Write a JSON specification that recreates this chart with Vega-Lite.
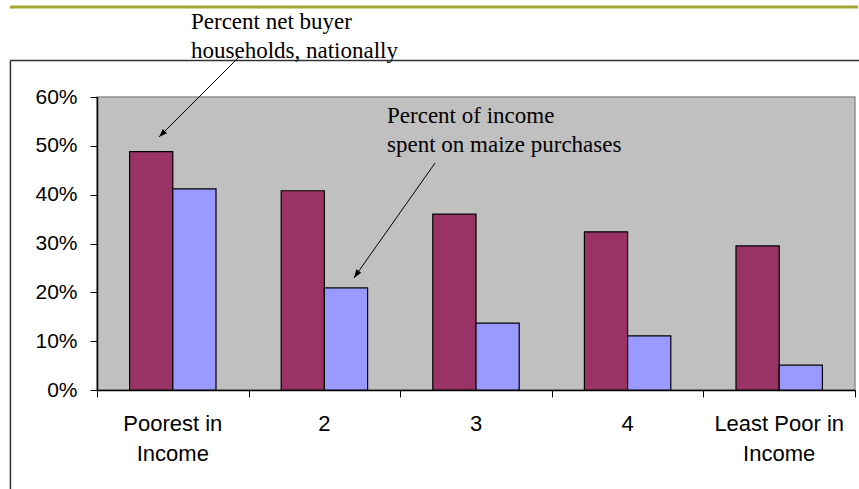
{
  "$schema": "https://vega.github.io/schema/vega-lite/v6.json",
  "autosize": "none",
  "width": 758,
  "height": 293,
  "padding": {"left": 97, "top": 97, "right": 4, "bottom": 99},
  "background": "#ffffff",
  "config": {
    "view": {"fill": "#C0C0C0", "stroke": "#909090", "strokeWidth": 1.5},
    "axis": {"grid": false}
  },
  "datasets": {
    "bars": [
      {"group": "Poorest in Income", "series": "Percent net buyer households, nationally", "value": 0.488},
      {"group": "Poorest in Income", "series": "Percent of income spent on maize purchases", "value": 0.412},
      {"group": "2", "series": "Percent net buyer households, nationally", "value": 0.408},
      {"group": "2", "series": "Percent of income spent on maize purchases", "value": 0.209},
      {"group": "3", "series": "Percent net buyer households, nationally", "value": 0.360},
      {"group": "3", "series": "Percent of income spent on maize purchases", "value": 0.137},
      {"group": "4", "series": "Percent net buyer households, nationally", "value": 0.324},
      {"group": "4", "series": "Percent of income spent on maize purchases", "value": 0.111},
      {"group": "Least Poor in Income", "series": "Percent net buyer households, nationally", "value": 0.295},
      {"group": "Least Poor in Income", "series": "Percent of income spent on maize purchases", "value": 0.051}
    ],
    "labels": [
      {"label": "Percent net buyer\nhouseholds, nationally", "x": 0.62, "y": 0.7393},
      {"label": "Percent of income\nspent on maize purchases", "x": 1.913, "y": 0.5468}
    ],
    "arrows": [
      {"x": 0.937, "y": 0.682, "x2": 0.409, "y2": 0.5181, "angle": 225},
      {"x": 2.23, "y": 0.4649, "x2": 1.695, "y2": 0.2294, "angle": 215}
    ],
    "frame": [
      {"x": -0.571, "x2": 6, "y": 0.6748, "y2": 0.6748},
      {"x": -0.571, "x2": -0.571, "y": 0.6748, "y2": -0.4}
    ],
    "topline": [
      {"x": -0.574, "x2": 5.02, "y": 0.7844}
    ],
    "ticks": [
      {"x": 0, "y": 0}
    ]
  },
  "layer": [
    {
      "data": {"name": "frame"},
      "mark": {"type": "rule", "stroke": "#333333", "strokeWidth": 1.5, "clip": false},
      "encoding": {
        "x": {"field": "x", "type": "quantitative", "scale": {"domain": [0, 5], "nice": false, "zero": false}, "axis": null},
        "x2": {"field": "x2"},
        "y": {"field": "y", "type": "quantitative", "scale": {"domain": [0, 0.6], "nice": false}},
        "y2": {"field": "y2"}
      }
    },
    {
      "data": {"name": "bars"},
      "mark": {"type": "bar", "stroke": "#000000", "strokeWidth": 1.2},
      "encoding": {
        "x": {
          "field": "group",
          "type": "nominal",
          "sort": null,
          "scale": {"paddingInner": 0.43, "paddingOuter": 0.215},
          "axis": {
            "title": null,
            "orient": "bottom",
            "domain": true,
            "ticks": false,
            "tickSize": 0,
            "domainColor": "#000000",
            "domainWidth": 1.5,
            "labelAngle": 0,
            "labelFont": "Liberation Sans",
            "labelFontSize": 22,
            "labelColor": "#000000",
            "labelLineHeight": 30,
            "labelPadding": 23,
            "labelBaseline": "top",
            "labelExpr": "datum.value == 'Poorest in Income' ? ['Poorest in', 'Income'] : datum.value == 'Least Poor in Income' ? ['Least Poor in', 'Income'] : datum.value"
          }
        },
        "xOffset": {
          "field": "series",
          "type": "nominal",
          "sort": null,
          "scale": {"paddingInner": 0, "paddingOuter": 0}
        },
        "y": {
          "field": "value",
          "type": "quantitative",
          "scale": {"domain": [0, 0.6], "nice": false, "zero": true},
          "axis": {
            "title": null,
            "orient": "left",
            "values": [0, 0.1, 0.2, 0.3, 0.4, 0.5, 0.6],
            "format": ".0%",
            "tickSize": 7,
            "tickColor": "#000000",
            "domain": true,
            "domainColor": "#000000",
            "domainWidth": 1.5,
            "labelFont": "Liberation Sans",
            "labelFontSize": 21,
            "labelColor": "#000000",
            "labelPadding": 13
          }
        },
        "color": {
          "field": "series",
          "type": "nominal",
          "sort": null,
          "scale": {
            "domain": ["Percent net buyer households, nationally", "Percent of income spent on maize purchases"],
            "range": ["#993366", "#9999FF"]
          },
          "legend": null
        }
      }
    },
    {
      "data": {"name": "topline"},
      "mark": {"type": "rule", "stroke": "#A6A632", "strokeWidth": 3, "clip": false},
      "encoding": {
        "x": {"field": "x", "type": "quantitative", "scale": {"domain": [0, 5], "nice": false, "zero": false}, "axis": null},
        "x2": {"field": "x2"},
        "y": {"field": "y", "type": "quantitative", "scale": {"domain": [0, 0.6], "nice": false}}
      }
    },
    {
      "data": {"name": "arrows"},
      "mark": {"type": "rule", "stroke": "#000000", "strokeWidth": 1, "clip": false},
      "encoding": {
        "x": {"field": "x", "type": "quantitative", "scale": {"domain": [0, 5], "nice": false, "zero": false}, "axis": null},
        "x2": {"field": "x2"},
        "y": {"field": "y", "type": "quantitative", "scale": {"domain": [0, 0.6], "nice": false}},
        "y2": {"field": "y2"}
      }
    },
    {
      "data": {"name": "arrows"},
      "mark": {"type": "point", "shape": "M0,0L-0.5,1.4L0.5,1.4Z", "filled": true, "color": "#000000", "opacity": 1, "size": 144, "clip": false},
      "encoding": {
        "x": {"field": "x2", "type": "quantitative", "scale": {"domain": [0, 5], "nice": false, "zero": false}, "axis": null},
        "y": {"field": "y2", "type": "quantitative", "scale": {"domain": [0, 0.6], "nice": false}},
        "angle": {"field": "angle", "type": "quantitative", "scale": null}
      }
    },
    {
      "data": {"name": "labels"},
      "mark": {"type": "text", "align": "left", "baseline": "alphabetic", "font": "Liberation Serif", "fontSize": 23, "lineHeight": 29, "lineBreak": "\n", "color": "#000000", "clip": false},
      "encoding": {
        "x": {"field": "x", "type": "quantitative", "scale": {"domain": [0, 5], "nice": false, "zero": false}, "axis": null},
        "y": {"field": "y", "type": "quantitative", "scale": {"domain": [0, 0.6], "nice": false}},
        "text": {"field": "label"}
      }
    },
    {
      "data": {"name": "ticks"},
      "mark": {"type": "point", "opacity": 0},
      "encoding": {
        "x": {
          "field": "x",
          "type": "quantitative",
          "scale": {"domain": [0, 5], "nice": false, "zero": false},
          "axis": {
            "orient": "bottom",
            "title": null,
            "values": [0, 1, 2, 3, 4, 5],
            "labels": false,
            "domain": false,
            "grid": false,
            "tickSize": 7,
            "tickColor": "#000000",
            "tickWidth": 1
          }
        },
        "y": {"field": "y", "type": "quantitative", "scale": {"domain": [0, 0.6], "nice": false}}
      }
    }
  ],
  "resolve": {"scale": {"x": "independent"}}
}
